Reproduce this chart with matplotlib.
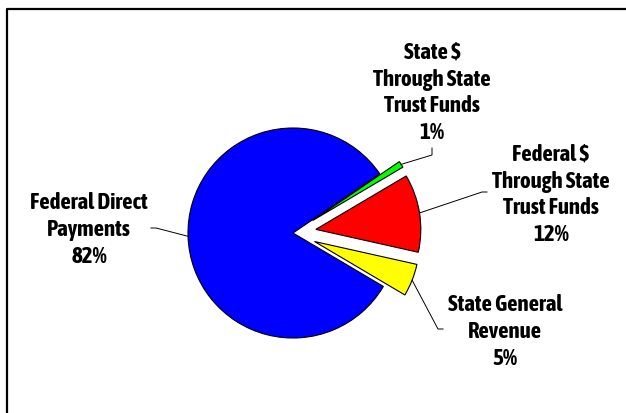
import numpy as np
import matplotlib
matplotlib.use("Agg")
import matplotlib.pyplot as plt
from matplotlib.lines import Line2D
from matplotlib import font_manager

# Data (counter-clockwise from the lower right)
labels = ["State General\nRevenue", "Federal $\nThrough State\nTrust Funds",
          "State $\nThrough State\nTrust Funds", "Federal Direct\nPayments"]
shares = [5, 12, 1, 82]
colors = ["#FFFF00", "#FF0000", "#00FF00", "#0000FF"]
explode = [0.22, 0.22, 0.22, 0.0]

W, H = 626, 413
cx, cy, R = 293, 233, 105   # pie centre / radius, pixels from top-left
start = -30.6

# where each label sits (pixels) and the elbow of its leader line
label_pos = [(505, 332), (551, 195), (432, 93), (89, 230)]
elbows = [[(438, 329), (443, 329)], [(482, 192), (487, 192)],
          [(432, 155), (432, 148)], [(156, 228), (151, 228)]]


def px(x, y):
    return x, H - y


# pick a narrow face that has a bold cut, if one is installed
bold_narrow = sorted({f.name for f in font_manager.fontManager.ttflist
                      if ("Narrow" in f.name or "Condensed" in f.name
                          or "condensed" in str(f.stretch))
                      and (f.weight == "bold" or str(f.weight) in ("700", "bold"))})
pref = [n for n in bold_narrow if "Liberation" in n] + bold_narrow
fam = pref[:1] + ["DejaVu Sans"]

fig = plt.figure(figsize=(W / 100, H / 100), dpi=100)
ax = fig.add_axes([0, 0, 1, 1])

wedges, _ = ax.pie(shares, colors=colors, explode=[e * R for e in explode],
                   startangle=start, counterclock=True, radius=R,
                   center=px(cx, cy),
                   wedgeprops=dict(edgecolor="black", linewidth=0.8))
ax.set_xlim(0, W)
ax.set_ylim(0, H)
ax.set_aspect("equal")
ax.axis("off")

font = dict(family=fam, weight="bold", stretch="condensed",
            fontsize=16.5, color="black")

for w, lab, val, lp, el in zip(wedges, labels, shares, label_pos, elbows):
    mid = np.deg2rad((w.theta1 + w.theta2) / 2)
    wx, wy = w.center
    ax0 = wx + w.r * np.cos(mid)
    ay0 = wy + w.r * np.sin(mid)
    xs = [ax0] + [px(*p)[0] for p in el]
    ys = [ay0] + [px(*p)[1] for p in el]
    ax.plot(xs, ys, color="black", linewidth=0.7)
    ax.text(*px(*lp), f"{lab}\n{val}%", ha="center", va="center",
            linespacing=1.28, **font)

# partial frame (left and top edges visible)
fig.add_artist(Line2D([7 / W, 7 / W, 1], [0, 1 - 9 / H, 1 - 9 / H],
                      color="black", linewidth=1.6, transform=fig.transFigure))

fig.savefig("out.png", dpi=100)
